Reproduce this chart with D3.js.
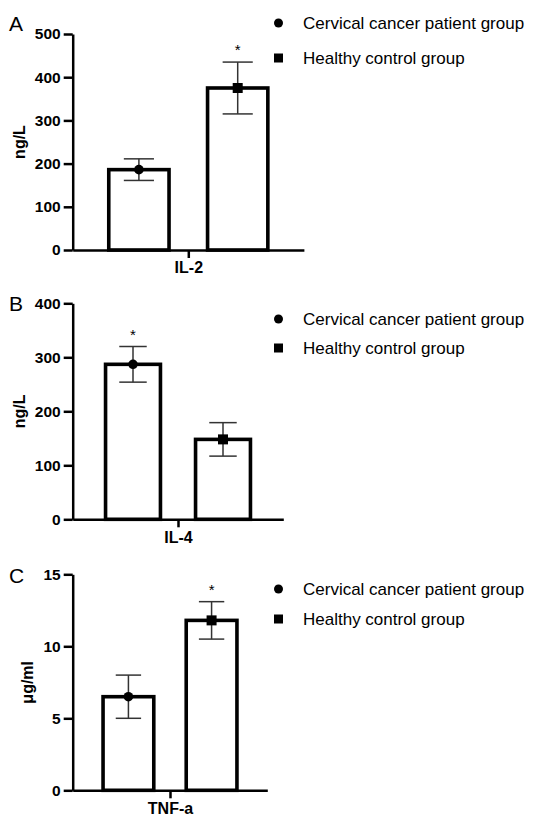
<!DOCTYPE html>
<html>
<head>
<meta charset="utf-8">
<script src="https://cdn.jsdelivr.net/npm/d3@7"></script>
<style>
  html, body { margin: 0; padding: 0; background: #fff; }
  svg { display: block; }
  text { font-family: "Liberation Sans", Arial, sans-serif; fill: #000; }
</style>
</head>
<body>
<svg id="chart" width="534" height="821"></svg>
<script>
// ---- data ----
const groups = ["Cervical cancer patient group", "Healthy control group"];
const panelLetters = ["A", "B", "C"];
const cytokines = ["IL-2", "IL-4", "TNF-a"];
const units = ["ng/L", "ng/L", "μg/ml"];
const yMax = [500, 400, 15];
const yTicks = [[0, 100, 200, 300, 400, 500], [0, 100, 200, 300, 400], [0, 5, 10, 15]];
const cancerMeans = [186, 287, 6.5];
const cancerSD = [25, 33, 1.5];
const controlMeans = [375, 148, 11.8];
const controlSD = [60, 31, 1.3];
const significant = [[false, true], [true, false], [false, true]];

// ---- layout ----
const svg = d3.select("#chart");
const axisX = 72.7;
const panelTop = [34, 303.3, 574.3];
const plotH = 216;
const catTickX = [188.3, 178, 170];
const legendY = [[23, 58], [319, 348], [589, 619]];
const letterY = [31, 311, 583];

panelLetters.forEach((letter, i) => {
  const g = svg.append("g");
  const top = panelTop[i], bottom = top + plotH;
  const right = axisX + 2 * (catTickX[i] - axisX);
  const y = d3.scaleLinear().domain([0, yMax[i]]).range([bottom, top]);
  const x = d3.scaleBand().domain(groups).range([axisX, right])
    .paddingInner(0.39).paddingOuter(0.365);

  const means = [cancerMeans[i], controlMeans[i]];
  const sds = [cancerSD[i], controlSD[i]];
  const data = groups.map((k, j) => ({ key: k, mean: means[j], sd: sds[j], sig: significant[i][j], j }));

  // bars
  g.selectAll("rect.bar").data(data).join("rect")
    .attr("x", d => x(d.key)).attr("width", x.bandwidth())
    .attr("y", d => y(d.mean)).attr("height", d => bottom - y(d.mean))
    .attr("fill", "#fff").attr("stroke", "#000").attr("stroke-width", 3.6);

  // error bars
  const cap = x.bandwidth() * 0.5;
  data.forEach(d => {
    const cx = x(d.key) + x.bandwidth() / 2;
    const eg = g.append("g").attr("stroke", "#333").attr("stroke-width", 1.5);
    eg.append("line").attr("x1", cx).attr("x2", cx).attr("y1", y(d.mean + d.sd)).attr("y2", y(d.mean - d.sd));
    eg.append("line").attr("x1", cx - cap / 2).attr("x2", cx + cap / 2).attr("y1", y(d.mean + d.sd)).attr("y2", y(d.mean + d.sd));
    eg.append("line").attr("x1", cx - cap / 2).attr("x2", cx + cap / 2).attr("y1", y(d.mean - d.sd)).attr("y2", y(d.mean - d.sd));
    if (d.j === 0) {
      g.append("circle").attr("cx", cx).attr("cy", y(d.mean)).attr("r", 4.8).attr("fill", "#000");
    } else {
      g.append("rect").attr("x", cx - 5).attr("y", y(d.mean) - 5).attr("width", 10).attr("height", 10).attr("fill", "#000");
    }
    if (d.sig) {
      g.append("text").attr("x", cx).attr("y", y(d.mean + d.sd) - 7)
        .attr("text-anchor", "middle").attr("font-size", 15).text("*");
    }
  });

  // y axis
  const yAxis = d3.axisLeft(y).tickValues(yTicks[i]).tickSize(9).tickSizeOuter(0).tickPadding(3);
  const ya = g.append("g").attr("transform", `translate(${axisX},0)`).call(yAxis);
  ya.select(".domain").attr("stroke", "#000").attr("stroke-width", 2.5);
  ya.selectAll(".tick line").attr("stroke", "#000").attr("stroke-width", 2.5);
  ya.selectAll(".tick text").attr("font-size", 15.5).attr("font-weight", "bold")
    .attr("font-family", "Liberation Sans, Arial, sans-serif").attr("fill", "#000");

  // x axis (single category)
  const xCat = d3.scalePoint().domain([cytokines[i]]).range([axisX, right]).padding(0.5);
  const xAxis = d3.axisBottom(xCat).tickSize(8).tickSizeOuter(0).tickPadding(4);
  const xa = g.append("g").attr("transform", `translate(0,${bottom})`).call(xAxis);
  xa.select(".domain").attr("stroke", "#000").attr("stroke-width", 2.5);
  xa.selectAll(".tick line").attr("stroke", "#000").attr("stroke-width", 2.5);
  xa.selectAll(".tick text").attr("font-size", 16).attr("font-weight", "bold")
    .attr("font-family", "Liberation Sans, Arial, sans-serif").attr("fill", "#000");

  // y label
  const labelX = i === 2 ? 27 : 19;
  g.append("text")
    .attr("transform", `translate(${labelX},${(top + bottom) / 2}) rotate(-90)`)
    .attr("text-anchor", "middle").attr("dy", "0.35em")
    .attr("font-size", 16).attr("font-weight", "bold").text(units[i]);

  // panel letter
  g.append("text").attr("x", 9).attr("y", letterY[i]).attr("font-size", 21).text(letter);

  // legend
  const lg = g.append("g");
  lg.append("circle").attr("cx", 278.5).attr("cy", legendY[i][0]).attr("r", 4.5).attr("fill", "#000");
  lg.append("rect").attr("x", 274).attr("y", legendY[i][1] - 4.5).attr("width", 9).attr("height", 9).attr("fill", "#000");
  groups.forEach((gname, j) => {
    lg.append("text").attr("x", 303).attr("y", legendY[i][j]).attr("dy", "0.35em")
      .attr("font-size", 17).text(gname);
  });
});
</script>
</body>
</html>
